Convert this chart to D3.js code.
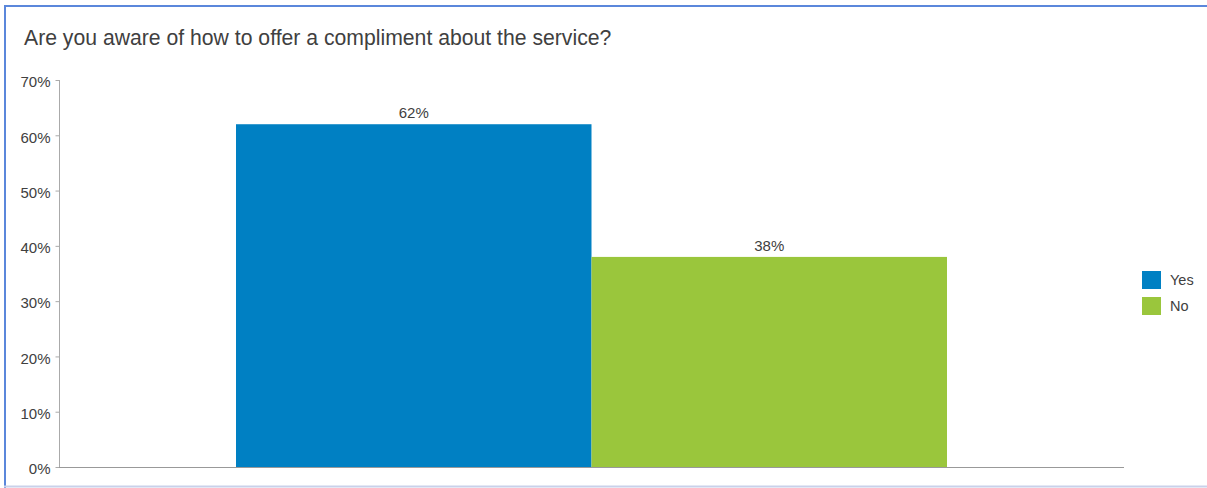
<!DOCTYPE html>
<html>
<head>
<meta charset="utf-8">
<script src="https://cdn.jsdelivr.net/npm/d3@7"></script>
<style>
  html, body { margin: 0; padding: 0; background: #fff; }
  svg { display: block; font-family: "Liberation Sans", Arial, sans-serif; }
</style>
</head>
<body>
<svg id="chart" width="1207" height="488"></svg>
<script>
// Survey answers and their shares (percent)
const categories = ["Yes", "No"];
const values = [62, 38];
const colors = ["#0080c3", "#9ac63c"];
const tickValues = [0, 10, 20, 30, 40, 50, 60, 70];
const title = "Are you aware of how to offer a compliment about the service?";

const textColor = "#404040";
const svg = d3.select("#chart");

// panel frame: blue top/left edges, pale bottom edge
svg.append("line").attr("x1", 4).attr("x2", 1207).attr("y1", 6).attr("y2", 6)
  .attr("stroke", "#5b87db").attr("stroke-width", 2);
svg.append("line").attr("x1", 5).attr("x2", 5).attr("y1", 5).attr("y2", 488)
  .attr("stroke", "#5b87db").attr("stroke-width", 2);
svg.append("line").attr("x1", 4).attr("x2", 1207).attr("y1", 486.5).attr("y2", 486.5)
  .attr("stroke", "#c9d1ea").attr("stroke-width", 2);

svg.append("text")
  .attr("x", 24).attr("y", 45)
  .attr("font-size", 21.2).attr("fill", textColor)
  .text(title);

const plotLeft = 59, plotRight = 1124, plotTop = 80, plotBottom = 467;

const y = d3.scaleLinear().domain([0, 70]).range([plotBottom, plotTop]);

// bars grouped in the middle two thirds of the plot width
const x = d3.scaleBand()
  .domain(categories)
  .range([236, 947])
  .paddingInner(0).paddingOuter(0);

svg.append("g")
  .selectAll("rect")
  .data(categories)
  .join("rect")
  .attr("x", d => x(d))
  .attr("width", x.bandwidth())
  .attr("y", (d, i) => y(values[i]))
  .attr("height", (d, i) => plotBottom - y(values[i]))
  .attr("fill", (d, i) => colors[i]);

svg.append("g")
  .selectAll("text")
  .data(categories)
  .join("text")
  .attr("x", d => x(d) + x.bandwidth() / 2)
  .attr("y", (d, i) => y(values[i]) - 6)
  .attr("text-anchor", "middle")
  .attr("font-size", 15).attr("fill", textColor)
  .text((d, i) => values[i] + "%");

// y axis
const yAxis = d3.axisLeft(y)
  .tickValues(tickValues)
  .tickFormat(d => d + "%")
  .tickSize(4)
  .tickPadding(5);
const gy = svg.append("g")
  .attr("transform", `translate(${plotLeft + 0.5},0)`)
  .call(yAxis);
gy.select(".domain").attr("stroke", "#aaa").attr("d", `M0,${plotTop}V${plotBottom}`);
gy.selectAll(".tick line").attr("stroke", "#aaa");
gy.selectAll(".tick text")
  .attr("font-family", "Liberation Sans, Arial, sans-serif")
  .attr("font-size", 15).attr("fill", textColor)
  .attr("dy", "0.45em");

// baseline
svg.append("line")
  .attr("x1", plotLeft).attr("x2", plotRight)
  .attr("y1", plotBottom + 0.5).attr("y2", plotBottom + 0.5)
  .attr("stroke", "#999").attr("stroke-width", 1);

// legend
const legend = svg.append("g")
  .selectAll("g")
  .data(categories)
  .join("g")
  .attr("transform", (d, i) => `translate(1142,${271 + i * 26})`);
legend.append("rect")
  .attr("width", 19).attr("height", 18)
  .attr("fill", (d, i) => colors[i]);
legend.append("text")
  .attr("x", 28).attr("y", 14)
  .attr("font-size", 14.5).attr("fill", textColor)
  .text(d => d);
</script>
</body>
</html>
